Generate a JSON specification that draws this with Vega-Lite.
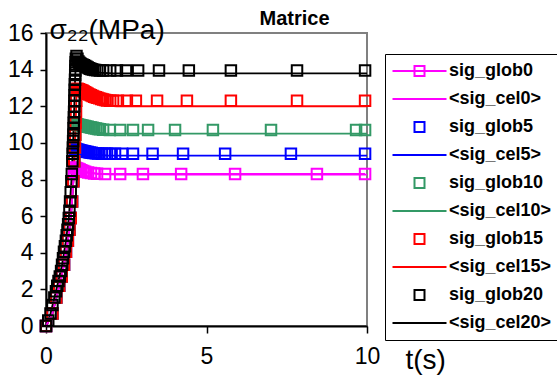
{
  "$schema": "https://vega.github.io/schema/vega-lite/v6.json",
  "width": 321,
  "height": 293,
  "autosize": {"type": "none"},
  "padding": {"left": 46, "top": 33, "right": 190, "bottom": 54},
  "background": "white",
  "title": {"text": "Matrice", "anchor": "middle", "dx": 88, "dy": 37, "offset": 8, "baseline": "alphabetic", "fontSize": 20, "fontWeight": "bold", "font": "Liberation Sans", "color": "black"},
  "config": {
    "view": {"stroke": "#808080", "strokeWidth": 2},
    "axis": {"grid": false, "labelFont": "Liberation Sans", "titleFont": "Liberation Sans", "labelColor": "black", "titleColor": "black", "domainColor": "black", "domainWidth": 2, "tickColor": "black", "tickWidth": 1.5, "titleFontWeight": "normal", "labelFontSize": 23},
    "legend": {"titleFontSize": 0, "titlePadding": 0}
  },
  "resolve": {"legend": {"color": "independent", "shape": "independent"}},
  "datasets": {
    "leg": [
      {"s":"sig_glob0","t":0,"v":0},{"s":"<sig_cel0>","t":0,"v":0},{"s":"sig_glob5","t":0,"v":0},{"s":"<sig_cel5>","t":0,"v":0},{"s":"sig_glob10","t":0,"v":0},{"s":"<sig_cel10>","t":0,"v":0},{"s":"sig_glob15","t":0,"v":0},{"s":"<sig_cel15>","t":0,"v":0},{"s":"sig_glob20","t":0,"v":0},{"s":"<sig_cel20>","t":0,"v":0}
    ],
    "pts": [
      {"s":"sig_glob0","t":0,"v":0},{"s":"sig_glob0","t":0.2,"v":0.68},{"s":"sig_glob0","t":0.32,"v":1.55},{"s":"sig_glob0","t":0.41,"v":2.2},{"s":"sig_glob0","t":0.49,"v":2.7},{"s":"sig_glob0","t":0.56,"v":3.35},{"s":"sig_glob0","t":0.62,"v":4.05},{"s":"sig_glob0","t":0.68,"v":4.65},{"s":"sig_glob0","t":0.73,"v":5.25},{"s":"sig_glob0","t":0.77,"v":5.9},{"s":"sig_glob0","t":0.81,"v":6.8},{"s":"sig_glob0","t":0.85,"v":7.9},{"s":"sig_glob0","t":0.87,"v":8.4},{"s":"sig_glob0","t":0.89,"v":8.65},{"s":"sig_glob0","t":0.93,"v":8.63},{"s":"sig_glob0","t":0.97,"v":8.6},{"s":"sig_glob0","t":1.01,"v":8.57},{"s":"sig_glob0","t":1.05,"v":8.54},{"s":"sig_glob0","t":1.1,"v":8.5},{"s":"sig_glob0","t":1.16,"v":8.46},{"s":"sig_glob0","t":1.22,"v":8.42},{"s":"sig_glob0","t":1.31,"v":8.38},{"s":"sig_glob0","t":1.4,"v":8.35},{"s":"sig_glob0","t":1.5,"v":8.33},{"s":"sig_glob0","t":1.59,"v":8.31},{"s":"sig_glob0","t":1.84,"v":8.3},{"s":"sig_glob0","t":2.31,"v":8.3},{"s":"sig_glob0","t":3.02,"v":8.3},{"s":"sig_glob0","t":4.21,"v":8.3},{"s":"sig_glob0","t":5.89,"v":8.3},{"s":"sig_glob0","t":8.44,"v":8.3},{"s":"sig_glob0","t":9.94,"v":8.3},
      {"s":"sig_glob5","t":0,"v":0},{"s":"sig_glob5","t":0.2,"v":0.68},{"s":"sig_glob5","t":0.32,"v":1.55},{"s":"sig_glob5","t":0.41,"v":2.2},{"s":"sig_glob5","t":0.49,"v":2.7},{"s":"sig_glob5","t":0.56,"v":3.35},{"s":"sig_glob5","t":0.62,"v":4.05},{"s":"sig_glob5","t":0.68,"v":4.65},{"s":"sig_glob5","t":0.73,"v":5.25},{"s":"sig_glob5","t":0.77,"v":5.9},{"s":"sig_glob5","t":0.81,"v":6.8},{"s":"sig_glob5","t":0.85,"v":7.9},{"s":"sig_glob5","t":0.88,"v":9.0},{"s":"sig_glob5","t":0.9,"v":9.6},{"s":"sig_glob5","t":0.93,"v":9.66},{"s":"sig_glob5","t":0.97,"v":9.64},{"s":"sig_glob5","t":1.01,"v":9.62},{"s":"sig_glob5","t":1.05,"v":9.6},{"s":"sig_glob5","t":1.1,"v":9.58},{"s":"sig_glob5","t":1.15,"v":9.56},{"s":"sig_glob5","t":1.2,"v":9.54},{"s":"sig_glob5","t":1.25,"v":9.52},{"s":"sig_glob5","t":1.3,"v":9.5},{"s":"sig_glob5","t":1.36,"v":9.48},{"s":"sig_glob5","t":1.42,"v":9.46},{"s":"sig_glob5","t":1.48,"v":9.44},{"s":"sig_glob5","t":1.55,"v":9.43},{"s":"sig_glob5","t":1.62,"v":9.42},{"s":"sig_glob5","t":1.74,"v":9.4},{"s":"sig_glob5","t":1.84,"v":9.4},{"s":"sig_glob5","t":1.9,"v":9.4},{"s":"sig_glob5","t":1.99,"v":9.4},{"s":"sig_glob5","t":2.15,"v":9.4},{"s":"sig_glob5","t":2.37,"v":9.4},{"s":"sig_glob5","t":2.71,"v":9.4},{"s":"sig_glob5","t":3.32,"v":9.4},{"s":"sig_glob5","t":4.27,"v":9.4},{"s":"sig_glob5","t":5.58,"v":9.4},{"s":"sig_glob5","t":7.63,"v":9.4},{"s":"sig_glob5","t":9.94,"v":9.4},
      {"s":"sig_glob10","t":0,"v":0},{"s":"sig_glob10","t":0.2,"v":0.68},{"s":"sig_glob10","t":0.32,"v":1.55},{"s":"sig_glob10","t":0.41,"v":2.2},{"s":"sig_glob10","t":0.49,"v":2.7},{"s":"sig_glob10","t":0.56,"v":3.35},{"s":"sig_glob10","t":0.62,"v":4.05},{"s":"sig_glob10","t":0.68,"v":4.65},{"s":"sig_glob10","t":0.73,"v":5.25},{"s":"sig_glob10","t":0.77,"v":5.9},{"s":"sig_glob10","t":0.81,"v":6.8},{"s":"sig_glob10","t":0.85,"v":7.9},{"s":"sig_glob10","t":0.88,"v":9.0},{"s":"sig_glob10","t":0.9,"v":9.75},{"s":"sig_glob10","t":0.913,"v":10.45},{"s":"sig_glob10","t":0.925,"v":11.0},{"s":"sig_glob10","t":0.96,"v":11.02},{"s":"sig_glob10","t":1.0,"v":11.0},{"s":"sig_glob10","t":1.05,"v":10.98},{"s":"sig_glob10","t":1.1,"v":10.96},{"s":"sig_glob10","t":1.15,"v":10.94},{"s":"sig_glob10","t":1.2,"v":10.92},{"s":"sig_glob10","t":1.25,"v":10.9},{"s":"sig_glob10","t":1.3,"v":10.88},{"s":"sig_glob10","t":1.35,"v":10.86},{"s":"sig_glob10","t":1.4,"v":10.84},{"s":"sig_glob10","t":1.45,"v":10.82},{"s":"sig_glob10","t":1.5,"v":10.8},{"s":"sig_glob10","t":1.56,"v":10.78},{"s":"sig_glob10","t":1.62,"v":10.76},{"s":"sig_glob10","t":1.68,"v":10.74},{"s":"sig_glob10","t":1.78,"v":10.72},{"s":"sig_glob10","t":1.99,"v":10.7},{"s":"sig_glob10","t":2.31,"v":10.7},{"s":"sig_glob10","t":2.71,"v":10.7},{"s":"sig_glob10","t":3.18,"v":10.7},{"s":"sig_glob10","t":4.02,"v":10.7},{"s":"sig_glob10","t":5.2,"v":10.7},{"s":"sig_glob10","t":7.01,"v":10.7},{"s":"sig_glob10","t":9.66,"v":10.7},{"s":"sig_glob10","t":9.94,"v":10.7},
      {"s":"sig_glob15","t":0,"v":0},{"s":"sig_glob15","t":0.2,"v":0.68},{"s":"sig_glob15","t":0.32,"v":1.55},{"s":"sig_glob15","t":0.41,"v":2.2},{"s":"sig_glob15","t":0.49,"v":2.7},{"s":"sig_glob15","t":0.56,"v":3.35},{"s":"sig_glob15","t":0.62,"v":4.05},{"s":"sig_glob15","t":0.68,"v":4.65},{"s":"sig_glob15","t":0.73,"v":5.25},{"s":"sig_glob15","t":0.77,"v":5.9},{"s":"sig_glob15","t":0.81,"v":6.8},{"s":"sig_glob15","t":0.85,"v":7.9},{"s":"sig_glob15","t":0.88,"v":9.0},{"s":"sig_glob15","t":0.9,"v":9.75},{"s":"sig_glob15","t":0.913,"v":10.45},{"s":"sig_glob15","t":0.925,"v":11.1},{"s":"sig_glob15","t":0.935,"v":11.7},{"s":"sig_glob15","t":0.945,"v":12.3},{"s":"sig_glob15","t":0.955,"v":12.9},{"s":"sig_glob15","t":0.98,"v":12.95},{"s":"sig_glob15","t":1.02,"v":12.93},{"s":"sig_glob15","t":1.06,"v":12.9},{"s":"sig_glob15","t":1.1,"v":12.87},{"s":"sig_glob15","t":1.14,"v":12.84},{"s":"sig_glob15","t":1.18,"v":12.8},{"s":"sig_glob15","t":1.22,"v":12.76},{"s":"sig_glob15","t":1.26,"v":12.72},{"s":"sig_glob15","t":1.3,"v":12.68},{"s":"sig_glob15","t":1.35,"v":12.64},{"s":"sig_glob15","t":1.4,"v":12.6},{"s":"sig_glob15","t":1.45,"v":12.56},{"s":"sig_glob15","t":1.5,"v":12.52},{"s":"sig_glob15","t":1.55,"v":12.49},{"s":"sig_glob15","t":1.6,"v":12.46},{"s":"sig_glob15","t":1.66,"v":12.43},{"s":"sig_glob15","t":1.72,"v":12.4},{"s":"sig_glob15","t":1.78,"v":12.37},{"s":"sig_glob15","t":1.84,"v":12.34},{"s":"sig_glob15","t":1.9,"v":12.32},{"s":"sig_glob15","t":2.0,"v":12.3},{"s":"sig_glob15","t":2.09,"v":12.3},{"s":"sig_glob15","t":2.24,"v":12.3},{"s":"sig_glob15","t":2.52,"v":12.3},{"s":"sig_glob15","t":2.8,"v":12.3},{"s":"sig_glob15","t":3.46,"v":12.3},{"s":"sig_glob15","t":4.39,"v":12.3},{"s":"sig_glob15","t":5.76,"v":12.3},{"s":"sig_glob15","t":7.82,"v":12.3},{"s":"sig_glob15","t":9.94,"v":12.3},
      {"s":"sig_glob20","t":0,"v":0},{"s":"sig_glob20","t":0.07,"v":0.3},{"s":"sig_glob20","t":0.14,"v":0.68},{"s":"sig_glob20","t":0.2,"v":1.15},{"s":"sig_glob20","t":0.26,"v":1.55},{"s":"sig_glob20","t":0.31,"v":1.9},{"s":"sig_glob20","t":0.35,"v":2.2},{"s":"sig_glob20","t":0.39,"v":2.46},{"s":"sig_glob20","t":0.43,"v":2.7},{"s":"sig_glob20","t":0.47,"v":3.0},{"s":"sig_glob20","t":0.5,"v":3.35},{"s":"sig_glob20","t":0.53,"v":3.7},{"s":"sig_glob20","t":0.56,"v":4.05},{"s":"sig_glob20","t":0.59,"v":4.35},{"s":"sig_glob20","t":0.62,"v":4.65},{"s":"sig_glob20","t":0.645,"v":4.95},{"s":"sig_glob20","t":0.67,"v":5.25},{"s":"sig_glob20","t":0.69,"v":5.55},{"s":"sig_glob20","t":0.71,"v":5.9},{"s":"sig_glob20","t":0.73,"v":6.3},{"s":"sig_glob20","t":0.75,"v":6.8},{"s":"sig_glob20","t":0.77,"v":7.3},{"s":"sig_glob20","t":0.79,"v":7.9},{"s":"sig_glob20","t":0.805,"v":8.3},{"s":"sig_glob20","t":0.82,"v":9.0},{"s":"sig_glob20","t":0.83,"v":9.4},{"s":"sig_glob20","t":0.838,"v":9.75},{"s":"sig_glob20","t":0.845,"v":10.1},{"s":"sig_glob20","t":0.853,"v":10.45},{"s":"sig_glob20","t":0.86,"v":10.8},{"s":"sig_glob20","t":0.865,"v":11.1},{"s":"sig_glob20","t":0.87,"v":11.4},{"s":"sig_glob20","t":0.875,"v":11.7},{"s":"sig_glob20","t":0.88,"v":12.0},{"s":"sig_glob20","t":0.885,"v":12.3},{"s":"sig_glob20","t":0.89,"v":12.6},{"s":"sig_glob20","t":0.895,"v":12.9},{"s":"sig_glob20","t":0.9,"v":13.2},{"s":"sig_glob20","t":0.905,"v":13.45},{"s":"sig_glob20","t":0.91,"v":13.7},{"s":"sig_glob20","t":0.915,"v":13.95},{"s":"sig_glob20","t":0.92,"v":14.2},{"s":"sig_glob20","t":0.925,"v":14.4},{"s":"sig_glob20","t":0.93,"v":14.6},{"s":"sig_glob20","t":0.95,"v":14.75},{"s":"sig_glob20","t":0.98,"v":14.6},{"s":"sig_glob20","t":1.01,"v":14.45},{"s":"sig_glob20","t":1.04,"v":14.38},{"s":"sig_glob20","t":1.07,"v":14.34},{"s":"sig_glob20","t":1.1,"v":14.3},{"s":"sig_glob20","t":1.14,"v":14.27},{"s":"sig_glob20","t":1.18,"v":14.24},{"s":"sig_glob20","t":1.22,"v":14.2},{"s":"sig_glob20","t":1.26,"v":14.16},{"s":"sig_glob20","t":1.3,"v":14.12},{"s":"sig_glob20","t":1.34,"v":14.08},{"s":"sig_glob20","t":1.38,"v":14.05},{"s":"sig_glob20","t":1.42,"v":14.02},{"s":"sig_glob20","t":1.47,"v":14.0},{"s":"sig_glob20","t":1.53,"v":13.98},{"s":"sig_glob20","t":1.6,"v":13.96},{"s":"sig_glob20","t":1.68,"v":13.95},{"s":"sig_glob20","t":1.78,"v":13.95},{"s":"sig_glob20","t":2.0,"v":13.95},{"s":"sig_glob20","t":2.21,"v":13.95},{"s":"sig_glob20","t":2.49,"v":13.95},{"s":"sig_glob20","t":2.87,"v":13.95},{"s":"sig_glob20","t":3.52,"v":13.95},{"s":"sig_glob20","t":4.45,"v":13.95},{"s":"sig_glob20","t":5.76,"v":13.95},{"s":"sig_glob20","t":7.82,"v":13.95},{"s":"sig_glob20","t":9.94,"v":13.95}
    ],
    "lines": [
      {"s":"<sig_cel0>","t":0,"v":0},{"s":"<sig_cel0>","t":0.2,"v":0.68},{"s":"<sig_cel0>","t":0.41,"v":2.2},{"s":"<sig_cel0>","t":0.56,"v":3.35},{"s":"<sig_cel0>","t":0.68,"v":4.65},{"s":"<sig_cel0>","t":0.77,"v":5.9},{"s":"<sig_cel0>","t":0.85,"v":7.9},{"s":"<sig_cel0>","t":0.89,"v":8.6},{"s":"<sig_cel0>","t":1.0,"v":8.55},{"s":"<sig_cel0>","t":1.3,"v":8.38},{"s":"<sig_cel0>","t":1.7,"v":8.3},{"s":"<sig_cel0>","t":2.2,"v":8.27},{"s":"<sig_cel0>","t":10,"v":8.27},
      {"s":"<sig_cel5>","t":0,"v":0},{"s":"<sig_cel5>","t":0.2,"v":0.68},{"s":"<sig_cel5>","t":0.41,"v":2.2},{"s":"<sig_cel5>","t":0.56,"v":3.35},{"s":"<sig_cel5>","t":0.68,"v":4.65},{"s":"<sig_cel5>","t":0.77,"v":5.9},{"s":"<sig_cel5>","t":0.85,"v":7.9},{"s":"<sig_cel5>","t":0.9,"v":9.6},{"s":"<sig_cel5>","t":1.0,"v":9.58},{"s":"<sig_cel5>","t":1.2,"v":9.48},{"s":"<sig_cel5>","t":1.5,"v":9.36},{"s":"<sig_cel5>","t":1.9,"v":9.31},{"s":"<sig_cel5>","t":2.3,"v":9.3},{"s":"<sig_cel5>","t":10,"v":9.3},
      {"s":"<sig_cel10>","t":0,"v":0},{"s":"<sig_cel10>","t":0.2,"v":0.68},{"s":"<sig_cel10>","t":0.41,"v":2.2},{"s":"<sig_cel10>","t":0.56,"v":3.35},{"s":"<sig_cel10>","t":0.68,"v":4.65},{"s":"<sig_cel10>","t":0.77,"v":5.9},{"s":"<sig_cel10>","t":0.85,"v":7.9},{"s":"<sig_cel10>","t":0.9,"v":9.75},{"s":"<sig_cel10>","t":0.925,"v":11.0},{"s":"<sig_cel10>","t":1.0,"v":10.9},{"s":"<sig_cel10>","t":1.2,"v":10.72},{"s":"<sig_cel10>","t":1.5,"v":10.58},{"s":"<sig_cel10>","t":1.9,"v":10.51},{"s":"<sig_cel10>","t":2.3,"v":10.5},{"s":"<sig_cel10>","t":10,"v":10.5},
      {"s":"<sig_cel15>","t":0,"v":0},{"s":"<sig_cel15>","t":0.2,"v":0.68},{"s":"<sig_cel15>","t":0.41,"v":2.2},{"s":"<sig_cel15>","t":0.56,"v":3.35},{"s":"<sig_cel15>","t":0.68,"v":4.65},{"s":"<sig_cel15>","t":0.77,"v":5.9},{"s":"<sig_cel15>","t":0.85,"v":7.9},{"s":"<sig_cel15>","t":0.9,"v":9.75},{"s":"<sig_cel15>","t":0.925,"v":11.1},{"s":"<sig_cel15>","t":0.955,"v":12.9},{"s":"<sig_cel15>","t":1.05,"v":12.7},{"s":"<sig_cel15>","t":1.25,"v":12.4},{"s":"<sig_cel15>","t":1.5,"v":12.18},{"s":"<sig_cel15>","t":1.8,"v":12.05},{"s":"<sig_cel15>","t":2.2,"v":12.0},{"s":"<sig_cel15>","t":10,"v":12.0},
      {"s":"<sig_cel20>","t":0,"v":0},{"s":"<sig_cel20>","t":0.14,"v":0.68},{"s":"<sig_cel20>","t":0.35,"v":2.2},{"s":"<sig_cel20>","t":0.5,"v":3.35},{"s":"<sig_cel20>","t":0.62,"v":4.65},{"s":"<sig_cel20>","t":0.71,"v":5.9},{"s":"<sig_cel20>","t":0.79,"v":7.9},{"s":"<sig_cel20>","t":0.845,"v":10.1},{"s":"<sig_cel20>","t":0.88,"v":12.0},{"s":"<sig_cel20>","t":0.91,"v":13.7},{"s":"<sig_cel20>","t":0.95,"v":14.6},{"s":"<sig_cel20>","t":1.05,"v":14.3},{"s":"<sig_cel20>","t":1.2,"v":14.05},{"s":"<sig_cel20>","t":1.4,"v":13.9},{"s":"<sig_cel20>","t":1.7,"v":13.83},{"s":"<sig_cel20>","t":2.1,"v":13.8},{"s":"<sig_cel20>","t":10,"v":13.8}
    ]
  },
  "encoding": {
    "x": {"field": "t", "type": "quantitative", "scale": {"domain": [0, 10], "nice": false, "zero": false},
      "axis": {"values": [0, 5, 10], "tickSize": 7, "labelPadding": 12, "labelFlush": false, "title": "t(s)", "titleFontSize": 28, "titleAlign": "left", "titleBaseline": "alphabetic", "titleX": 359, "titleY": 42}},
    "y": {"field": "v", "type": "quantitative", "scale": {"domain": [0, 16], "nice": false},
      "axis": {"values": [0, 2, 4, 6, 8, 10, 12, 14, 16], "tickSize": 6, "labelPadding": 7, "title": "σ₂₂(MPa)", "titleAngle": 0, "titleFontSize": 28, "titleAlign": "left", "titleBaseline": "alphabetic", "titleX": 3, "titleY": 5}}
  },
  "layer": [
    {
      "data": {"name": "lines"},
      "mark": {"type": "line", "strokeWidth": 1.8},
      "encoding": {
        "color": {"field": "s", "type": "nominal", "legend": null,
          "scale": {"domain": ["sig_glob0","<sig_cel0>","sig_glob5","<sig_cel5>","sig_glob10","<sig_cel10>","sig_glob15","<sig_cel15>","sig_glob20","<sig_cel20>"],
                    "range": ["#FF00FF","#FF00FF","#0000FF","#0000FF","#339966","#339966","#FF0000","#FF0000","#000000","#000000"]}}
      }
    },
    {
      "data": {"name": "pts"},
      "transform": [{"filter": "datum.s === 'sig_glob0'"}],
      "mark": {"type": "line", "strokeWidth": 1.8},
      "encoding": {
        "color": {"field": "s", "type": "nominal", "legend": null}
      }
    },
    {
      "data": {"name": "pts"},
      "mark": {"type": "point", "shape": "square", "filled": false, "size": 110, "strokeWidth": 2, "opacity": 1},
      "encoding": {
        "color": {"field": "s", "type": "nominal", "legend": null}
      }
    },
    {
      "data": {"name": "leg"},
      "mark": {"type": "point", "filled": false, "size": 0, "strokeWidth": 2, "opacity": 1},
      "encoding": {
        "shape": {"field": "s", "type": "nominal", "legend": {"title": null},
          "scale": {"domain": ["sig_glob0","<sig_cel0>","sig_glob5","<sig_cel5>","sig_glob10","<sig_cel10>","sig_glob15","<sig_cel15>","sig_glob20","<sig_cel20>"],
                    "range": ["M-5.4,0H5.4M-1,-1H1V1H-1Z","M-5.4,0H5.4","M-1,-1H1V1H-1Z","M-5.4,0H5.4","M-1,-1H1V1H-1Z","M-5.4,0H5.4","M-1,-1H1V1H-1Z","M-5.4,0H5.4","M-1,-1H1V1H-1Z","M-5.4,0H5.4"]}},
        "color": {"field": "s", "type": "nominal",
          "legend": {"orient": "none", "legendX": 339, "legendY": 21, "title": null, "padding": 8, "strokeColor": "black", "fillColor": "white",
            "labelFont": "Liberation Sans", "labelFontSize": 18, "labelFontWeight": "bold", "labelColor": "black", "labelOffset": 20.5, "labelLimit": 300,
            "symbolOffset": 17.5, "symbolSize": 100, "symbolStrokeWidth": 2, "symbolOpacity": 1, "rowPadding": 10,
            "encode": {
              "legend": {"strokeWidth": {"value": 2}},
              "symbols": {"size": {"value": 100}, "strokeWidth": {"value": 2}, "fill": {"value": "transparent"}}
            }}}
      }
    }
  ]
}
